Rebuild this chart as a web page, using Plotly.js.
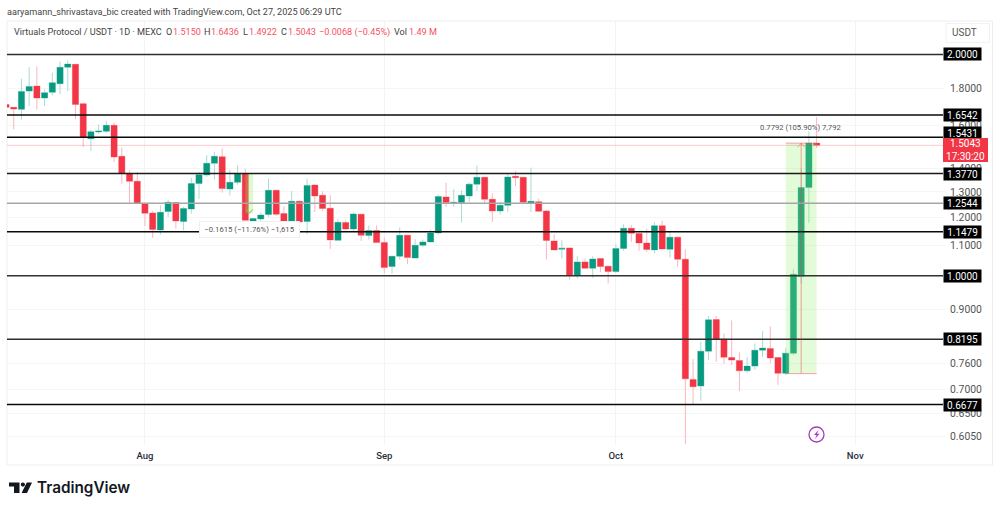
<!DOCTYPE html>
<html><head><meta charset="utf-8">
<script src="https://cdn.plot.ly/plotly-3.0.1.min.js"></script>
<style>html,body{margin:0;padding:0;background:#fff}#chart{width:1000px;height:511px}</style>
</head><body><div id="chart"></div>
<script>
const firstDay = "2025-07-14";
const opens = [1.7104,1.6945,1.684,1.783,1.8113,1.7445,1.776,1.825,1.922,1.939,
1.7142,1.5363,1.569,1.5719,1.6017,1.4535,1.3769,1.3442,1.2546,1.2172,
1.154,1.2225,1.2574,1.185,1.2325,1.3349,1.3708,1.4221,1.4521,1.312,
1.34,1.3769,1.1871,1.1946,1.2112,1.3068,1.2148,1.186,1.2625,1.185,
1.3283,1.2866,1.2353,1.1175,1.181,1.1576,1.2123,1.134,1.152,1.11,
1.0292,1.0629,1.135,1.057,1.10,1.1115,1.1435,1.2797,1.2558,1.2574,
1.2837,1.332,1.361,1.2705,1.2249,1.2468,1.3652,1.361,1.2558,1.2612,
1.2249,1.1149,1.0865,1.0909,1.0016,1.0442,1.0238,1.0553,1.0302,1.0133,
1.0889,1.1602,1.141,1.1079,1.0842,1.1695,1.0865,1.1282,1.053,.7225,
.7079,.7895,.8719,.8198,.774,.7669,.7424,.7533,.792,.7962,
.774,.7365,.7845,.9984,1.3181,1.515];
const highs = [1.7104,1.6945,1.8538,1.922,1.9265,1.7927,1.889,1.957,1.9631,1.942,
1.721,1.5803,1.6066,1.6233,1.6152,1.4951,1.3912,1.3838,1.2546,1.2249,
1.2468,1.2693,1.2574,1.2403,1.3583,1.3838,1.4581,1.4732,1.489,1.3942,
1.4131,1.3986,1.1973,1.2186,1.3556,1.3068,1.243,1.304,1.2665,1.3556,
1.334,1.3027,1.287,1.1946,1.1897,1.221,1.2148,1.1707,1.1707,1.1272,
1.0629,1.1628,1.135,1.121,1.12,1.1555,1.29,1.3377,1.311,1.3068,
1.34,1.4118,1.361,1.2935,1.26,1.3769,1.3883,1.361,1.403,1.2733,
1.2302,1.1385,1.1175,1.0933,1.0629,1.0553,1.0629,1.0553,1.0302,1.1035,
1.1748,1.172,1.141,1.1591,1.1823,1.1871,1.147,1.1293,1.0865,.77,
.8128,.8813,.8813,.8347,.8692,.7864,.7748,.8088,.8403,.8529,
.774,.797,1.0206,1.3986,1.5725,1.6436];
const lows = [1.6945,1.5817,1.6305,1.7014,1.6824,1.7014,1.7593,1.7664,1.783,1.6335,
1.4965,1.4778,1.5606,1.5635,1.4279,1.3337,1.2533,1.2533,1.1687,1.1256,
1.1375,1.2022,1.1591,1.153,1.2148,1.2716,1.3624,1.3526,1.2973,1.2853,
1.3298,1.1897,1.186,1.1871,1.2022,1.206,1.186,1.186,1.1835,1.1385,
1.221,1.2249,1.0877,1.1175,1.153,1.147,1.115,1.12,1.1092,1.0069,
1.0069,1.052,1.0367,1.057,1.0943,1.1105,1.1375,1.2403,1.2403,1.1811,
1.26,1.304,1.2558,1.1835,1.2112,1.221,1.3237,1.2533,1.221,1.221,
1.0523,1.0831,1.0552,.988,.9912,1.0238,.9931,1.011,.9759,1.0088,
1.0807,1.1115,1.0807,1.0775,1.0731,1.0855,1.0586,1.0282,.59,.6683,
.6758,.7676,.7635,.759,.7556,.6966,.7371,.7447,.7748,.76,
.7102,.7325,.7793,.9759,1.1797,1.4922];
const closes = [1.6945,1.6856,1.7815,1.8096,1.7445,1.7743,1.8308,1.9207,1.941,1.7104,
1.5445,1.5704,1.5734,1.6017,1.4503,1.3769,1.3442,1.2533,1.216,1.1555,
1.2198,1.2586,1.1871,1.2341,1.3349,1.3725,1.4221,1.4535,1.3137,1.34,
1.3769,1.1897,1.1961,1.2096,1.3068,1.2123,1.186,1.2625,1.1835,1.327,
1.2837,1.2341,1.1186,1.1823,1.1576,1.2135,1.135,1.152,1.1092,1.026,
1.0629,1.135,1.0585,1.10,1.1115,1.1435,1.2813,1.2574,1.2586,1.2866,
1.332,1.361,1.2705,1.2249,1.2468,1.3624,1.3597,1.2586,1.2625,1.2237,
1.1164,1.0842,1.0899,1.0016,1.0442,1.0238,1.0539,1.0292,1.0133,1.0889,
1.1602,1.1422,1.1079,1.0855,1.1695,1.0875,1.1282,1.053,.7239,.7061,
.7895,.8708,.819,.7748,.7676,.7424,.7533,.792,.797,.7727,
.7365,.7845,1.0047,1.3181,1.515,1.5043];

const levels = [2.0,1.6542,1.5431,1.3770,1.2544,1.1479,1.0,0.8195,0.6677];
const levelColors = ["#2e2e2e","#0a0a0a","#0a0a0a","#1a1a1a","#a6a6a6","#0a0a0a","#333333","#2e2e2e","#0a0a0a"];
const levelBadgeShift = [0,0,-4.5,0,0,0,0,0,0];
const priceTicks = [1.8,1.6,1.4,1.3,1.2,1.1,0.9,0.76,0.7,0.65,0.605];
const monthTicks = ["2025-08-01","2025-09-01","2025-10-01","2025-11-01"];
const monthNames = ["Aug","Sep","Oct","Nov"];
const lastPrice = 1.5043;
const upMeasure = {from:"2025-10-23", mid:"2025-10-25", to:"2025-10-27", lo:0.7358, hi:1.5150};
const downMeasure = {from:"2025-08-14", to:"2025-08-15", hi:1.3769, lo:1.2154};

const W=1000,H=511,L=7,R=945,T=20.5,B=445;
const px=x=>(x-L)/(R-L), py=y=>1-(y-T)/(B-T);
const RED="#f23645",GREEN="#089981";
const FONT="Roboto, sans-serif";
const days=[];{const d=new Date(firstDay+"T00:00:00Z");for(let i=0;i<opens.length;i++){days.push(new Date(d.getTime()+i*864e5).toISOString().slice(0,10));}}

const base={type:"candlestick",x:days,open:opens,high:highs,low:lows,close:closes,hoverinfo:"skip",showlegend:false};
const data=[
 Object.assign({},base,{increasing:{line:{color:"#a8dcd2",width:1},fillcolor:"#a8dcd2"},decreasing:{line:{color:"#fab6bd",width:1},fillcolor:"#fab6bd"},whiskerwidth:0}),
 Object.assign({},base,{increasing:{line:{color:GREEN,width:0},fillcolor:GREEN},decreasing:{line:{color:RED,width:0},fillcolor:RED},whiskerwidth:0})
];

const shapes=[];
shapes.push({type:"rect",xref:"paper",yref:"paper",x0:0,x1:px(992.5),y0:py(20.5),y1:py(465),line:{color:"#eeeeee",width:1},layer:"below"});
shapes.push({type:"rect",xref:"paper",yref:"paper",x0:px(946),x1:px(989.5),y0:py(23),y1:py(42),line:{color:"#f2f2f2",width:1},layer:"below"});
shapes.push({type:"rect",xref:"x",yref:"y",x0:upMeasure.from,x1:upMeasure.to,y0:upMeasure.lo,y1:upMeasure.hi,fillcolor:"rgba(144,238,100,0.25)",line:{width:0},layer:"above"});
shapes.push({type:"rect",xref:"x",yref:"y",x0:downMeasure.from,x1:downMeasure.to,y0:downMeasure.lo,y1:downMeasure.hi,fillcolor:"rgba(144,238,100,0.3)",line:{width:0},layer:"above"});
shapes.push({type:"line",xref:"paper",yref:"y",x0:0,x1:1,y0:lastPrice,y1:lastPrice,line:{color:"rgba(242,54,69,0.25)",width:1},layer:"above"});
levels.forEach((v,i)=>shapes.push({type:"line",xref:"paper",yref:"y",x0:0,x1:px(943),y0:v,y1:v,line:{color:levelColors[i],width:1.5},layer:"above"}));
const pink="rgba(242,54,69,0.45)";
[[upMeasure.from,upMeasure.to,upMeasure.hi,upMeasure.hi],[upMeasure.from,upMeasure.to,upMeasure.lo,upMeasure.lo],[upMeasure.mid,upMeasure.mid,upMeasure.lo,upMeasure.hi]].forEach(s=>shapes.push({type:"line",xref:"x",yref:"y",x0:s[0],x1:s[1],y0:s[2],y1:s[3],line:{color:pink,width:1},layer:"above"}));
const path=(pts,close)=>pts.map((p,i)=>(i?"L":"M")+px(p[0]).toFixed(5)+","+py(p[1]).toFixed(5)).join(" ")+(close?" Z":"");
shapes.push({type:"path",xref:"paper",yref:"paper",path:path([[797.5,147],[801.2,143],[805,147]]),line:{color:pink,width:1},layer:"above"});
shapes.push({type:"path",xref:"paper",yref:"paper",path:path([[246,209],[249.5,213],[253,209]]),line:{color:"#5fd33c",width:1},layer:"above"});
shapes.push({type:"circle",xref:"paper",yref:"paper",x0:px(809),x1:px(824),y0:py(427),y1:py(442),line:{color:"#a63cc2",width:1.3},fillcolor:"#ffffff",layer:"above"});
shapes.push({type:"path",xref:"paper",yref:"paper",path:path([[818.5,430],[814,435],[816.6,435],[815,439],[819.6,433.8],[817,433.8]],true),fillcolor:"#a63cc2",line:{width:0},layer:"above"});
shapes.push({type:"path",xref:"paper",yref:"paper",path:path([[9,482.5],[19.5,482.5],[19.5,493],[14,493],[14,486.5],[9,486.5]],true),fillcolor:"#131722",line:{width:0}});
shapes.push({type:"circle",xref:"paper",yref:"paper",x0:px(20.8),x1:px(25),y0:py(482.5),y1:py(486.7),fillcolor:"#131722",line:{width:0}});
shapes.push({type:"path",xref:"paper",yref:"paper",path:path([[26.8,482.5],[32,482.5],[27,493],[21.6,493]],true),fillcolor:"#131722",line:{width:0}});

const ann=[];
const txt=(x,y,text,size,color,anchor,extra)=>ann.push(Object.assign({xref:"paper",yref:"paper",x:px(x),y:py(y),text:text,showarrow:false,xanchor:anchor||"left",yanchor:"middle",font:{family:FONT,size:size,color:color},borderpad:0,borderwidth:0},extra||{}));
const HEAD=9.1,LOSS="#f7525f";
txt(7,11.5,"aaryamann_shrivastava_bic created with TradingView.com, Oct 27, 2025 06:29 UTC",HEAD,"#444444");
txt(14,32,"Virtuals Protocol / USDT · 1D · MEXC",HEAD,"#444444");
[[166,"O",172.5,"1.5150"],[204,"H",211,"1.6436"],[243,"L",248.5,"1.4922"],[281,"C",287.5,"1.5043"],[394,"Vol",409,"1.49 M"]].forEach(o=>{txt(o[0],32,o[1],HEAD,"#444444");txt(o[2],32,o[3],HEAD,LOSS);});
txt(319,32,"−0.0068 (−0.45%)",HEAD,LOSS);
txt(952,32,"USDT",10,"#555555");
levels.forEach((v,i)=>ann.push({xref:"paper",yref:"y",x:px(943),y:Math.log10(v),yshift:-levelBadgeShift[i],text:v.toFixed(4),showarrow:false,xanchor:"left",yanchor:"middle",bgcolor:"#000000",width:37,height:12,font:{family:FONT,size:10,color:"#ffffff"},borderpad:0}));
txt(943,150,"1.5043<br>17:30:20",10,"#ffffff","left",{bgcolor:RED,width:45,height:24,align:"center"});
txt(199,229.2,"−0.1615 (−11.76%) −1,615",7.7,"#555555","left",{bgcolor:"#ffffff",width:99,height:15,bordercolor:"#f0f0f0",borderwidth:1,align:"center"});
txt(800.5,127,"0.7792 (105.90%) 7,792",7.7,"#555555","center");
txt(37,488,"TradingView",15.3,"#131722","left",{font:{family:"Inter, sans-serif",size:15.3,color:"#131722",weight:600}});

const layout={width:W,height:H,margin:{l:L,r:W-R,t:T,b:H-B,pad:0},paper_bgcolor:"#fff",plot_bgcolor:"#fff",dragmode:false,hovermode:false,showlegend:false,boxgap:0.2,boxgroupgap:0,
 xaxis:{type:"date",range:["2025-07-14 03:06","2025-11-12 15:07"],rangeslider:{visible:false},tickvals:monthTicks,ticktext:monthNames,showgrid:true,gridcolor:"#f3f3f3",gridwidth:1,zeroline:false,showline:false,ticks:"",ticklabelstandoff:3,tickfont:{family:FONT,size:9.5,color:"#2a2e39",weight:500}},
 yaxis:{type:"log",side:"right",range:[-0.23036,0.34656],tickmode:"array",tickvals:priceTicks,ticktext:priceTicks.map(v=>v.toFixed(4)),showgrid:true,gridcolor:"#f5f5f5",gridwidth:1,zeroline:false,showline:false,ticks:"",ticklabelstandoff:4,tickfont:{family:FONT,size:10.4,color:"#555555"}},
 shapes:shapes,annotations:ann};
Plotly.newPlot("chart",data,layout,{displayModeBar:false,staticPlot:true});
</script></body></html>
